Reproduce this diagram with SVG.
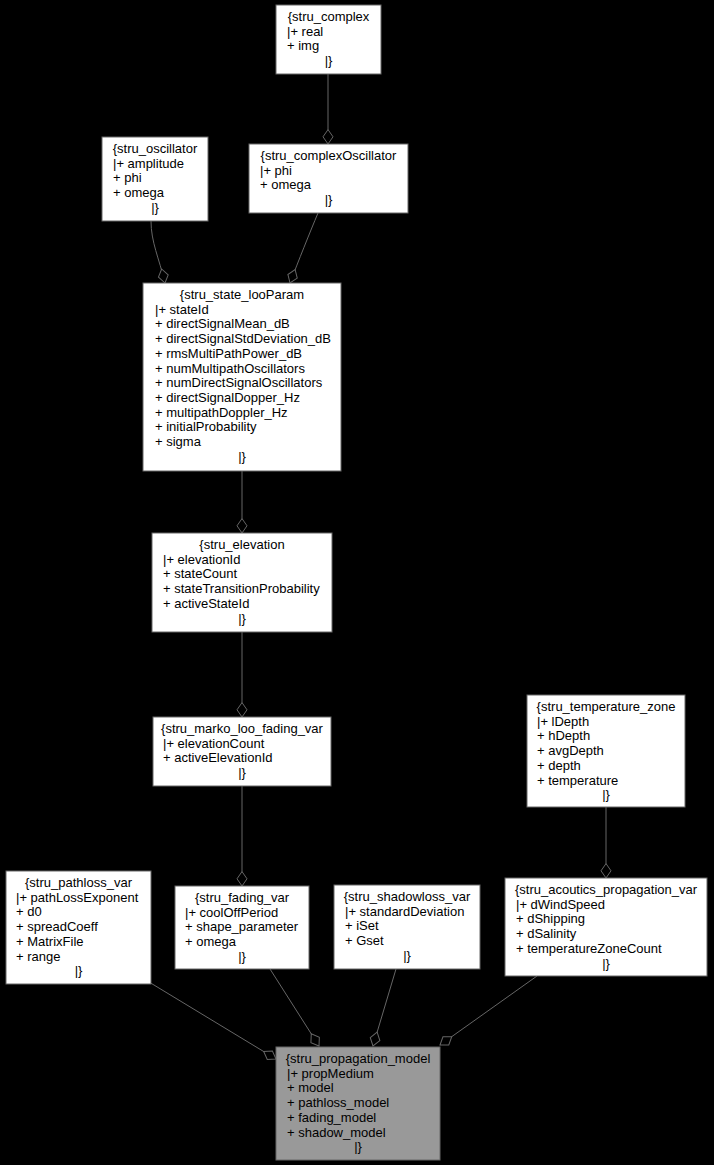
<svg xmlns="http://www.w3.org/2000/svg" width="714" height="1165" viewBox="0 0 714 1165">
<style>
.box{fill:#ffffff;stroke:#666666;stroke-width:1}
.main{fill:#999999;stroke:#666666;stroke-width:1}
text{font-family:"Liberation Sans",Arial,sans-serif;font-size:13px;fill:#000000}
.c{text-anchor:middle}
.edge{fill:none;stroke:#666666;stroke-width:1;marker-start:url(#dia)}
</style>
<defs>
<marker id="dia" markerUnits="userSpaceOnUse" markerWidth="18" markerHeight="14" refX="0" refY="6" orient="auto" viewBox="-1 0 18 12" overflow="visible">
<path d="M0,6 L7.2,1 L14.4,6 L7.2,11 Z" fill="#000000" stroke="#666666" stroke-width="1"/>
</marker>
</defs>
<rect x="0" y="0" width="714" height="1165" fill="#000000"/>
<g id="connectors">
<path class="edge" d="M328,144 L328,74"/>
<path class="edge" d="M165,283 C159,258 151,242 151,221"/>
<path class="edge" d="M290,283 C298,262 310,232 318,213"/>
<path class="edge" d="M242,533 L242,471"/>
<path class="edge" d="M242,717 L242,632"/>
<path class="edge" d="M242,886 L242,786"/>
<path class="edge" d="M606,878 L606,807"/>
<path class="edge" d="M276,1059 L149,982"/>
<path class="edge" d="M319,1046 L270,969"/>
<path class="edge" d="M373,1046 L396,969"/>
<path class="edge" d="M440,1045 L537,976"/>
</g>
<g id="stru_complex">
<rect class="box" x="276" y="5" width="105" height="69"/>
<text class="c" x="328.5" y="21">{stru_complex</text>
<text x="287" y="35.7">|+ real</text>
<text x="287" y="50.4">+ img</text>
<text class="c" x="328.5" y="65.1">|}</text>
</g>
<g id="stru_oscillator">
<rect class="box" x="102" y="137" width="106" height="84"/>
<text class="c" x="155" y="153">{stru_oscillator</text>
<text x="113" y="167.7">|+ amplitude</text>
<text x="113" y="182.4">+ phi</text>
<text x="113" y="197.1">+ omega</text>
<text class="c" x="155" y="211.8">|}</text>
</g>
<g id="stru_complexOscillator">
<rect class="box" x="249" y="144" width="159" height="69"/>
<text class="c" x="328.5" y="160">{stru_complexOscillator</text>
<text x="260" y="174.7">|+ phi</text>
<text x="260" y="189.4">+ omega</text>
<text class="c" x="328.5" y="204.1">|}</text>
</g>
<g id="stru_state_looParam">
<rect class="box" x="143" y="283" width="198" height="188"/>
<text class="c" x="242" y="299">{stru_state_looParam</text>
<text x="155" y="313.7">|+ stateId</text>
<text x="155" y="328.4">+ directSignalMean_dB</text>
<text x="155" y="343.1">+ directSignalStdDeviation_dB</text>
<text x="155" y="357.8">+ rmsMultiPathPower_dB</text>
<text x="155" y="372.5">+ numMultipathOscillators</text>
<text x="155" y="387.2">+ numDirectSignalOscillators</text>
<text x="155" y="401.9">+ directSignalDopper_Hz</text>
<text x="155" y="416.6">+ multipathDoppler_Hz</text>
<text x="155" y="431.3">+ initialProbability</text>
<text x="155" y="446">+ sigma</text>
<text class="c" x="242" y="460.7">|}</text>
</g>
<g id="stru_elevation">
<rect class="box" x="152" y="533" width="180" height="99"/>
<text class="c" x="242" y="549">{stru_elevation</text>
<text x="163" y="563.7">|+ elevationId</text>
<text x="163" y="578.4">+ stateCount</text>
<text x="163" y="593.1">+ stateTransitionProbability</text>
<text x="163" y="607.8">+ activeStateId</text>
<text class="c" x="242" y="622.5">|}</text>
</g>
<g id="stru_marko_loo_fading_var">
<rect class="box" x="153" y="717" width="178" height="69"/>
<text class="c" x="242" y="733">{stru_marko_loo_fading_var</text>
<text x="163" y="747.7">|+ elevationCount</text>
<text x="163" y="762.4">+ activeElevationId</text>
<text class="c" x="242" y="777.1">|}</text>
</g>
<g id="stru_pathloss_var">
<rect class="box" x="6" y="871" width="145" height="113"/>
<text class="c" x="78.5" y="887">{stru_pathloss_var</text>
<text x="16" y="901.7">|+ pathLossExponent</text>
<text x="16" y="916.4">+ d0</text>
<text x="16" y="931.1">+ spreadCoeff</text>
<text x="16" y="945.8">+ MatrixFile</text>
<text x="16" y="960.5">+ range</text>
<text class="c" x="78.5" y="975.2">|}</text>
</g>
<g id="stru_fading_var">
<rect class="box" x="175" y="886" width="134" height="83"/>
<text class="c" x="242" y="902">{stru_fading_var</text>
<text x="185" y="916.7">|+ coolOffPeriod</text>
<text x="185" y="931.4">+ shape_parameter</text>
<text x="185" y="946.1">+ omega</text>
<text class="c" x="242" y="960.8">|}</text>
</g>
<g id="stru_shadowloss_var">
<rect class="box" x="334" y="885" width="146" height="84"/>
<text class="c" x="407" y="901">{stru_shadowloss_var</text>
<text x="345" y="915.7">|+ standardDeviation</text>
<text x="345" y="930.4">+ iSet</text>
<text x="345" y="945.1">+ Gset</text>
<text class="c" x="407" y="959.8">|}</text>
</g>
<g id="stru_temperature_zone">
<rect class="box" x="527" y="695" width="158" height="112"/>
<text class="c" x="606" y="711">{stru_temperature_zone</text>
<text x="537" y="725.7">|+ lDepth</text>
<text x="537" y="740.4">+ hDepth</text>
<text x="537" y="755.1">+ avgDepth</text>
<text x="537" y="769.8">+ depth</text>
<text x="537" y="784.5">+ temperature</text>
<text class="c" x="606" y="799.2">|}</text>
</g>
<g id="stru_acoutics_propagation_var">
<rect class="box" x="505" y="878" width="202" height="98"/>
<text class="c" x="606" y="894">{stru_acoutics_propagation_var</text>
<text x="516" y="908.7">|+ dWindSpeed</text>
<text x="516" y="923.4">+ dShipping</text>
<text x="516" y="938.1">+ dSalinity</text>
<text x="516" y="952.8">+ temperatureZoneCount</text>
<text class="c" x="606" y="967.5">|}</text>
</g>
<g id="stru_propagation_model">
<rect class="main" x="276" y="1047" width="164" height="113"/>
<text class="c" x="358" y="1063">{stru_propagation_model</text>
<text x="287" y="1077.7">|+ propMedium</text>
<text x="287" y="1092.4">+ model</text>
<text x="287" y="1107.1">+ pathloss_model</text>
<text x="287" y="1121.8">+ fading_model</text>
<text x="287" y="1136.5">+ shadow_model</text>
<text class="c" x="358" y="1151.2">|}</text>
</g>
</svg>
